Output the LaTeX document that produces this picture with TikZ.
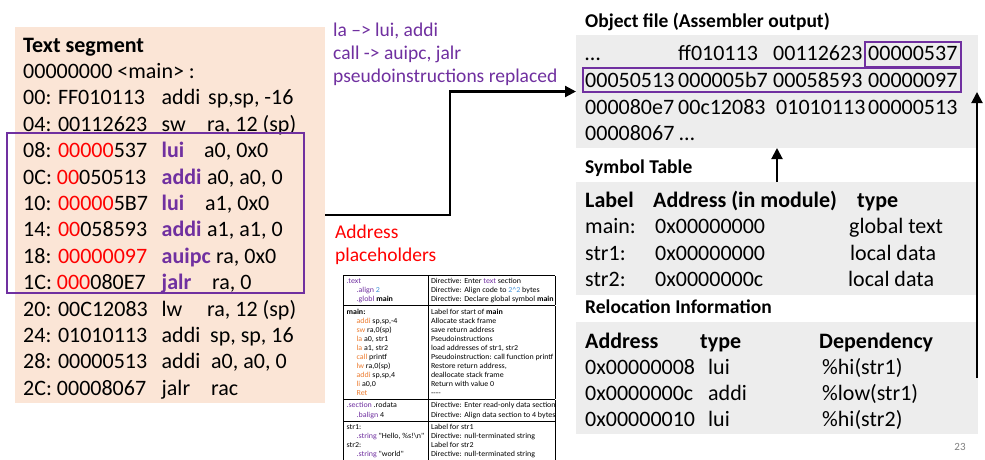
\documentclass[tikz,border=0pt]{standalone}
\usepackage{fontspec}
\setmainfont{Carlito}
\newfontfamily\listingfont[FakeStretch=1.05]{Carlito}
\usepackage{array}
\usetikzlibrary{arrows.meta}
\definecolor{peach}{HTML}{FBE5D6}
\definecolor{panelgray}{HTML}{EDEDED}
\definecolor{asmpurple}{HTML}{7030A0}
\definecolor{asmorange}{HTML}{ED7D31}
\definecolor{asmblue}{HTML}{3D8FD6}
\newcommand{\phold}[1]{\textcolor{red}{#1}}
\newcommand{\relmn}[1]{\textcolor{asmpurple}{\textbf{#1}}}
\newcommand{\dirc}[1]{\textcolor{asmpurple}{#1}}
\newcommand{\opc}[1]{\textcolor{asmorange}{#1}}

\begin{document}
\begin{tikzpicture}[x=1pt,y=-1pt,
    code/.style={anchor=base west,inner sep=0,font=\codefontsize},
    caption/.style={anchor=base west,inner sep=0,font=\captionfontsize\bfseries},
    note/.style={anchor=base west,inner sep=0,font=\notefontsize},
    panel/.style={anchor=north west,inner sep=0,outer sep=0},
    marker/.style={draw=asmpurple,line width=2pt},
    arr/.style={-{Triangle[length=11pt,width=11pt]},line width=2.2pt}]
    \providecommand{\codefontsize}{\fontsize{22}{26}\selectfont}
    \providecommand{\captionfontsize}{\fontsize{19.5}{23}\selectfont}
    \providecommand{\notefontsize}{\fontsize{19.5}{23}\selectfont}
    \providecommand{\tablefontsize}{\listingfont\fontsize{7.6}{9.1}\selectfont}
    \fill[white] (0,0) rectangle (985,459);
    \useasboundingbox (0,0) rectangle (985,459);
    % text segment
    \node[panel,fill=peach,minimum width=310pt,minimum height=376pt] (textseg) at (15,27) {};
    \node[code,font=\codefontsize\bfseries] (segtitle) at (23,52) {Text segment};
    \node[code] (mainlabel) at (23,78.4) {00000000 <main> :};
    \foreach \ad/\hx/\mn/\op/\ox [count=\i from 2] in {
        00/FF010113/addi/{sp,sp, -16}/208,
        04/00112623/sw/{ra, 12 (sp)}/207,
        08/{\phold{00000}537}/{\relmn{lui}}/{a0, 0x0}/204,
        0C/{\phold{00}050513}/{\relmn{addi}}/{a0, a0, 0}/207,
        10/{\phold{00000}5B7}/{\relmn{lui}}/{a1, 0x0}/205,
        14/{\phold{00}058593}/{\relmn{addi}}/{a1, a1, 0}/207,
        18/{\phold{00000097}}/{\relmn{auipc}}/{ra, 0x0}/216,
        1C/{\phold{000}080E7}/{\relmn{jalr}}/{ra, 0}/212,
        20/00C12083/lw/{ra, 12 (sp)}/207,
        24/01010113/addi/{sp, sp, 16}/210,
        28/00000513/addi/{a0, a0, 0}/211,
        2C/00008067/jalr/rac/211}
    {
        \pgfmathsetmacro{\yy}{52+26.4*\i}
        \node[code] (hex\i) at (23,\yy) {\ad: \hx};
        \node[code] (mn\i) at (161.5,\yy) {\mn};
        \node[code] (op\i) at (\ox,\yy) {\op};
    }
    \node[panel,marker,minimum width=297pt,minimum height=160pt] (pseudobox) at (7,133) {};
    % notes
    \node[note,text=asmpurple] (lanote) at (333,36) {la –> lui, addi};
    \node[note,text=asmpurple] (callnote) at (333,59.5) {call -> auipc, jalr};
    \node[note,text=asmpurple] (pseudonote) at (333,82.7) {pseudoinstructions replaced};
    \node[note,text=red] (addrnote) at (335,238.3) {Address};
    \node[note,text=red] (placenote) at (335,261.7) {placeholders};
    % source listing
    \node[anchor=north west,inner sep=0,font=\tablefontsize] (srctable) at (343,275) {%
        \renewcommand{\arraystretch}{1.28}\setlength{\tabcolsep}{3pt}%
        \begin{tabular}{|>{\raggedright\arraybackslash}p{78pt}|>{\raggedright\arraybackslash}p{121pt}|}
        \hline
        \dirc{.text}\newline\hspace*{10pt}\dirc{.align} \textcolor{asmblue}{2}\newline\hspace*{10pt}\dirc{.globl} \textbf{main}
        & Directive: Enter \dirc{text} section\newline Directive: Align code to \textcolor{asmblue}{2\textasciicircum2} bytes\newline \mbox{Directive: Declare global symbol \textbf{main}}\\
        \hline
        \textbf{main:}\newline\hspace*{10pt}\opc{addi} sp,sp,-4\newline\hspace*{10pt}\opc{sw} ra,0(sp)\newline\hspace*{10pt}\opc{la} a0, str1\newline\hspace*{10pt}\opc{la} a1, str2\newline\hspace*{10pt}\opc{call} printf\newline\hspace*{10pt}\opc{lw} ra,0(sp)\newline\hspace*{10pt}\opc{addi} sp,sp,4\newline\hspace*{10pt}\opc{li} a0,0\newline\hspace*{10pt}\opc{Ret}
        & Label for start of \textbf{main}\newline Allocate stack frame\newline save return address\newline Pseudoinstructions\newline load addresses of str1, str2\newline \mbox{Pseudoinstruction: call function printf}\newline Restore return address,\newline deallocate stack frame\newline Return with value 0\newline {-}{-}{-}{-}\\
        \hline
        \dirc{.section} .rodata\newline\hspace*{10pt}\dirc{.balign} 4
        & \mbox{Directive: Enter read-only data section}\newline \mbox{Directive: Align data section to 4 bytes}\\
        \hline
        str1:\newline\hspace*{10pt}\mbox{\dirc{.string} "Hello, \%s!\textbackslash n"}\newline str2:\newline\hspace*{10pt}\dirc{.string} "world"
        & Label for str1\newline Directive: null-terminated string\newline Label for str2\newline Directive: null-terminated string\\
        \hline
        \end{tabular}};
    % object file
    \node[caption] (objtitle) at (585,27) {Object file (Assembler output)};
    \node[panel,fill=panelgray,minimum width=402pt,minimum height=113pt] (objbox) at (576,35) {};
    \foreach \w/\xx/\yy [count=\i] in {
        {…}/585/60, ff010113/678/60, 00112623/773/60, 00000537/868/60,
        00050513/585/87, 000005b7/678/87, 00058593/773/87, 00000097/868/87,
        000080e7/585/114, 00c12083/678/114, 01010113/776/114, 00000513/868/114,
        {00008067 …}/585/140}
        \node[code] (word\i) at (\xx,\yy) {\w};
    \node[panel,marker,minimum width=96pt,minimum height=25pt] (wordbox) at (865,42) {};
    \node[panel,marker,minimum width=378pt,minimum height=24pt] (rowbox) at (583,68) {};
    % symbol table
    \node[caption] (symtitle) at (585,173) {Symbol Table};
    \node[panel,fill=panelgray,minimum width=402pt,minimum height=113pt] (symbox) at (576,182) {};
    \node[code,font=\codefontsize\bfseries] (symlabel) at (585,207.5) {Label};
    \node[code,font=\codefontsize\bfseries] (symaddr) at (653,207.5) {Address (in module)};
    \node[code,font=\codefontsize\bfseries] (symtype) at (857,207.5) {type};
    \foreach \lb/\ad/\ty/\yy/\tx [count=\i] in {
        main:/0x00000000/global text/233.5/849,
        str1:/0x00000000/local data/260/850,
        str2:/0x0000000c/local data/286/848}
    {
        \node[code] (sym\i) at (585,\yy) {\lb};
        \node[code] (symad\i) at (655,\yy) {\ad};
        \node[code] (symty\i) at (\tx,\yy) {\ty};
    }
    % relocation information
    \node[caption] (reltitle) at (585,313.3) {Relocation Information};
    \node[panel,fill=panelgray,minimum width=402pt,minimum height=112pt] (relbox) at (576,322) {};
    \node[code,font=\codefontsize\bfseries] (reladdr) at (585,348.3) {Address};
    \node[code,font=\codefontsize\bfseries] (reltype) at (700,348.3) {type};
    \node[code,font=\codefontsize\bfseries] (reldep) at (819,348.3) {Dependency};
    \foreach \ad/\ty/\dep/\yy [count=\i] in {
        0x00000008/lui/\%hi(str1)/374,
        0x0000000c/addi/\%low(str1)/400,
        0x00000010/lui/\%hi(str2)/426}
    {
        \node[code] (rel\i) at (585,\yy) {\ad};
        \node[code] (relty\i) at (708,\yy) {\ty};
        \node[code] (reldep\i) at (822,\yy) {\dep};
    }
    \node[anchor=base,inner sep=0,font=\fontsize{11}{13}\selectfont,text=gray] (pagenum) at (960,450.7) {23};
    % arrows
    \draw[arr] (textseg.east) -- ++(125,0) |- (objbox.west);
    \draw[arr,line width=2pt] (symbox.north) -- (symbox.north |- objbox.south);
    \draw[arr,line width=2pt] ([xshift=-1pt]relbox.east) -- ([xshift=-1pt]relbox.east |- rowbox.south);
\end{tikzpicture}
\end{document}
